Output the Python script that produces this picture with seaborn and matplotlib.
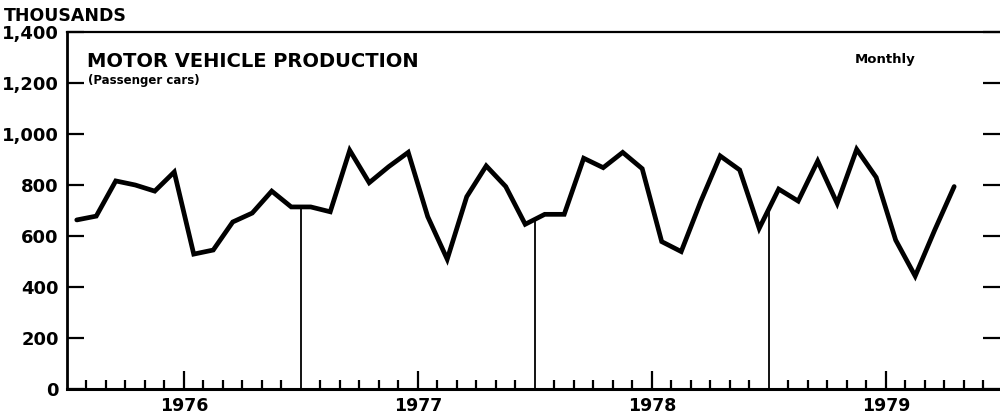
import numpy as np
import pandas as pd
import seaborn as sns
import matplotlib.pyplot as plt
from matplotlib.ticker import StrMethodFormatter

# monthly passenger car production, thousands
prod_1976 = [663, 678, 816, 800, 776, 851, 529, 545, 655, 690, 776, 714]
prod_1977 = [714, 695, 936, 809, 872, 928, 676, 509, 754, 875, 794, 646]
prod_1978 = [685, 685, 905, 868, 928, 864, 578, 539, 735, 914, 859, 630]
prod_1979 = [784, 737, 894, 728, 940, 830, 584, 443, 623, 794]
years = [1976, 1977, 1978, 1979]
y_ticks = [0, 200, 400, 600, 800, 1000, 1200, 1400]

values = prod_1976 + prod_1977 + prod_1978 + prod_1979
df = pd.DataFrame({"month": np.arange(len(values)) + 0.5, "cars": values})

sns.set_style("white")
plt.rcParams["font.family"] = ["DejaVu Sans"]
plt.rcParams["font.weight"] = "bold"
for key in ["text.color", "xtick.color", "ytick.color", "axes.labelcolor"]:
    plt.rcParams[key] = "black"

fig = plt.figure(figsize=(10, 4.19), dpi=100)
ax = fig.add_axes([0.067, 0.0716, 0.933, 0.852])

sns.lineplot(data=df, x="month", y="cars", ax=ax, color="black", linewidth=3.4,
             solid_joinstyle="miter")

# year boundary lines from the axis up to the curve
bounds = [12, 24, 36]
tops = np.interp(bounds, df["month"], df["cars"])
ax.vlines(bounds, 0, tops, color="black", linewidth=1.3)

ax.set_xlim(0, 47.85)
ax.set_ylim(0, 1400)
ax.set_xlabel("")
ax.set_ylabel("")

ax.set_yticks(y_ticks)
ax.yaxis.set_major_formatter(StrMethodFormatter("{x:,.0f}"))
ax.tick_params(axis="y", direction="in", length=12, width=1.6, labelsize=13,
               pad=6, right=True, left=True)

ax.set_xticks([6, 18, 30, 42])
ax.set_xticklabels([str(y) for y in years])
minor = [m for m in range(1, 48) if m % 12 != 0 and m % 12 != 6]
ax.set_xticks(minor, minor=True)
ax.tick_params(axis="x", which="major", direction="in", length=13, width=1.6,
               labelsize=12.5, pad=6, bottom=True)
ax.tick_params(axis="x", which="minor", direction="in", length=6.5, width=1.6,
               bottom=True)

for side in ["left", "bottom", "top"]:
    ax.spines[side].set_color("black")
ax.spines["left"].set_linewidth(2)
ax.spines["bottom"].set_linewidth(2.2)
ax.spines["top"].set_linewidth(1.6)
ax.spines["right"].set_visible(False)

fig.text(0.004, 1 - 7 / 419, "THOUSANDS", fontsize=12.5, fontweight="bold", va="top")
fig.text(0.087, 1 - 52 / 419, "MOTOR VEHICLE PRODUCTION", fontsize=14,
         fontweight="bold", va="top")
fig.text(0.088, 1 - 74 / 419, "(Passenger cars)", fontsize=8.5, fontweight="bold", va="top")
fig.text(0.855, 1 - 53 / 419, "Monthly", fontsize=9.5, fontweight="bold", va="top")

fig.savefig("out.png", dpi=100)
